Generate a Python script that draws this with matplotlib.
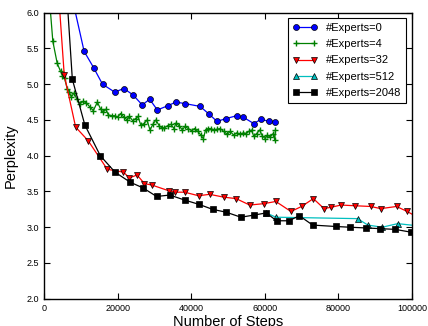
import matplotlib
matplotlib.use('Agg')
import matplotlib.pyplot as plt

plt.rcParams['font.family'] = ['Liberation Sans', 'DejaVu Sans']

# Experts=0
steps_0 = [5500, 10900, 13500, 15900, 19200, 21700, 24200, 26700, 28700, 30800,
           33700, 35800, 38200, 42400, 44900, 47000, 49500, 52400, 54100, 57000,
           59000, 61100, 62900]
ppl_0 = [6.7, 5.46, 5.23, 5.00, 4.89, 4.94, 4.85, 4.71, 4.79, 4.64,
         4.70, 4.75, 4.73, 4.69, 4.58, 4.48, 4.52, 4.56, 4.54, 4.45,
         4.51, 4.48, 4.47]

# Experts=4 (noisy)
steps_4 = [1000, 2400, 3600, 4500, 5000, 5600, 6300, 6900, 7400, 8200, 8900, 9800,
           10700, 11500, 12500, 13400, 14500, 15400, 16100, 16800, 17500, 18400,
           19200, 20000, 20800, 21700, 22600, 23200, 24100, 24900, 25500, 26300,
           27200, 28000, 28800, 29600, 30400, 31300, 32000, 32700, 33600, 34500,
           35300, 35900, 36700, 37600, 38300, 39200, 40100, 40900, 41800, 42600,
           43300, 43900, 44600, 45300, 46200, 47000, 47900, 48800, 49800, 50600,
           51500, 52400, 53300, 54200, 55000, 55600, 56400, 57000, 57800, 58600,
           59300, 60100, 60700, 61400, 62300, 62700, 62900]
ppl_4 = [6.5, 5.60, 5.29, 5.18, 5.12, 5.08, 4.94, 4.89, 4.82, 4.88, 4.79, 4.73,
         4.76, 4.74, 4.68, 4.63, 4.75, 4.65, 4.61, 4.65, 4.57, 4.56, 4.56, 4.54,
         4.59, 4.54, 4.50, 4.55, 4.49, 4.52, 4.55, 4.43, 4.45, 4.50, 4.36, 4.44,
         4.50, 4.42, 4.39, 4.39, 4.42, 4.44, 4.38, 4.46, 4.42, 4.36, 4.41, 4.38,
         4.35, 4.38, 4.34, 4.29, 4.24, 4.36, 4.38, 4.38, 4.36, 4.37, 4.38, 4.34,
         4.30, 4.34, 4.29, 4.32, 4.30, 4.32, 4.31, 4.34, 4.36, 4.27, 4.31, 4.36,
         4.28, 4.24, 4.29, 4.26, 4.31, 4.22, 4.36]

# Experts=32
steps_32 = [3500, 5500, 8600, 12000, 17200, 21600, 23200, 25300, 27300, 29300,
            33900, 35700, 38200, 42000, 45000, 48900, 52200, 55900, 59800, 63000,
            67100, 70000, 73200, 76100, 78100, 80700, 84600, 88800, 91500, 95800,
            98700, 101500]
ppl_32 = [6.6, 5.13, 4.40, 4.21, 3.81, 3.77, 3.69, 3.73, 3.61, 3.59,
          3.51, 3.49, 3.49, 3.44, 3.46, 3.42, 3.40, 3.31, 3.33, 3.36,
          3.22, 3.29, 3.40, 3.26, 3.28, 3.31, 3.30, 3.29, 3.26, 3.29,
          3.22, 3.14]

# Experts=512
steps_512 = [60400, 63000, 85200, 88000, 91900, 96100, 101500]
ppl_512 = [3.20, 3.14, 3.12, 3.03, 3.00, 3.05, 3.02]

# Experts=2048
steps_2048 = [5000, 7700, 11100, 15300, 19300, 23400, 26900, 30600, 34200, 38200,
              42100, 45800, 49500, 53500, 57100, 60400, 63200, 66500, 69400, 73000,
              79300, 83100, 87400, 91300, 95400, 99800]
ppl_2048 = [7.2, 5.07, 4.43, 4.00, 3.77, 3.63, 3.55, 3.43, 3.45, 3.38,
            3.32, 3.25, 3.21, 3.14, 3.17, 3.20, 3.09, 3.09, 3.16, 3.03,
            3.01, 3.00, 2.99, 2.98, 2.97, 2.93]

fig = plt.figure(figsize=(4.28, 3.26), dpi=100)
ax = fig.add_axes([0.1028, 0.0837, 0.8598, 0.8773])

ax.plot(steps_0, ppl_0, color='b', marker='o', markersize=4.3, markeredgecolor='k',
        markeredgewidth=0.5, linewidth=0.9, label='#Experts=0')
ax.plot(steps_4, ppl_4, color='g', marker='+', markersize=5, markeredgewidth=1.0,
        linewidth=0.9, label='#Experts=4')
ax.plot(steps_32, ppl_32, color='r', marker='v', markersize=4.3, markeredgecolor='k',
        markeredgewidth=0.5, linewidth=0.9, label='#Experts=32')
ax.plot(steps_512, ppl_512, color='c', marker='^', markersize=4.3, markeredgecolor='k',
        markeredgewidth=0.5, linewidth=0.9, label='#Experts=512')
ax.plot(steps_2048, ppl_2048, color='k', marker='s', markersize=4.0, markeredgecolor='k',
        markeredgewidth=0.5, linewidth=0.9, label='#Experts=2048')

ax.set_xlim(0, 100000)
ax.set_ylim(2.0, 6.0)
ax.set_xticks([0, 20000, 40000, 60000, 80000, 100000])
ax.set_yticks([2.0, 2.5, 3.0, 3.5, 4.0, 4.5, 5.0, 5.5, 6.0])
ax.set_yticklabels(['2.0', '2.5', '3.0', '3.5', '4.0', '4.5', '5.0', '5.5', '6.0'])
ax.tick_params(direction='in', top=True, right=True, labelsize=6.5, length=4, width=0.8)
for s in ax.spines.values():
    s.set_linewidth(1.0)

ax.set_xlabel('Number of Steps', fontsize=10.5, labelpad=2)
ax.set_ylabel('Perplexity', fontsize=10.5, labelpad=6)

leg = ax.legend(loc='upper right', numpoints=2, fontsize=8, fancybox=False,
                framealpha=1, edgecolor='k', borderpad=0.45, labelspacing=0.55,
                handlelength=2.2, borderaxespad=0.5)
leg.get_frame().set_linewidth(0.8)

fig.savefig('out.png', dpi=100)
